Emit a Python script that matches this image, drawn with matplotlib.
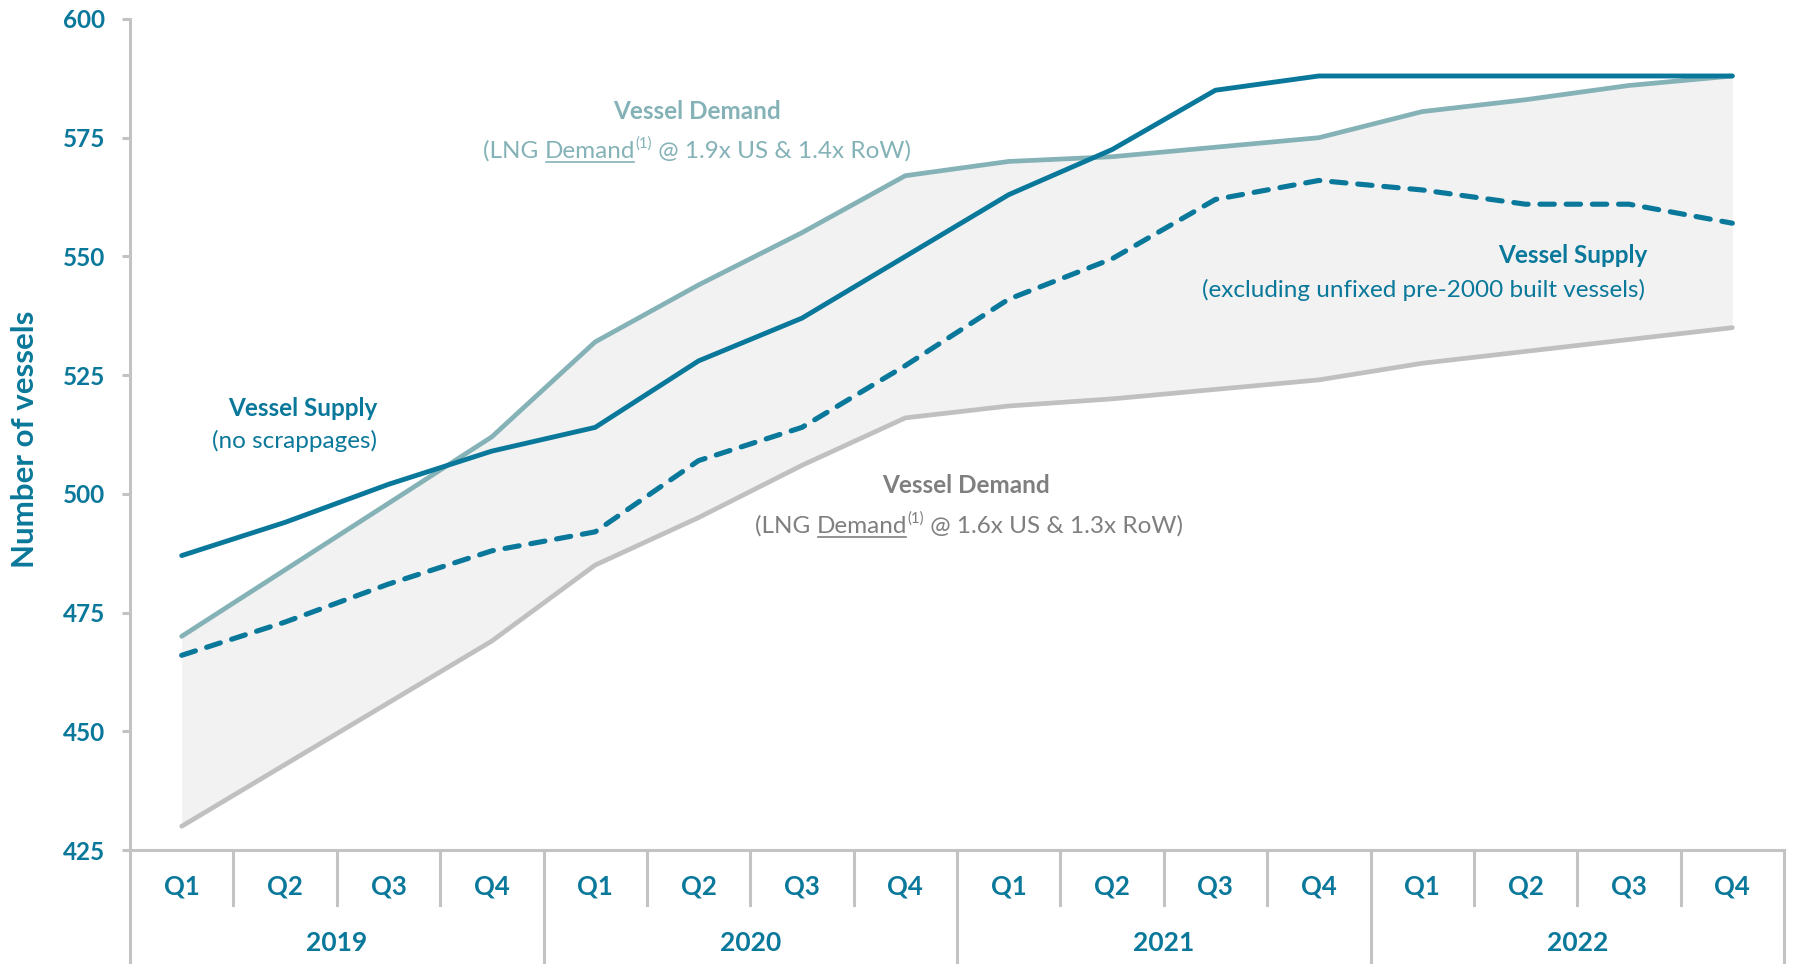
import matplotlib
matplotlib.use('Agg')
import matplotlib.pyplot as plt
from matplotlib.transforms import IdentityTransform, blended_transform_factory
from matplotlib.lines import Line2D

# ---------------- data ----------------
quarters = ['Q1', 'Q2', 'Q3', 'Q4'] * 4
years = ['2019', '2020', '2021', '2022']
supply_no_scrap = [487, 494, 502, 509, 514, 528, 537, 550, 563, 572.5, 585, 588, 588, 588, 588, 588]
demand_high = [470, 484, 498, 512, 532, 544, 555, 567, 570, 571, 573, 575, 580.5, 583, 586, 588]
demand_low = [430, 443, 456, 469, 485, 495, 506, 516, 518.5, 520, 522, 524, 527.5, 530, 532.5, 535]
supply_excl = [466, 473, 481, 488, 492, 507, 514, 527, 541, 549.5, 562, 566, 564, 561, 561, 557]
y_ticks = [425, 450, 475, 500, 525, 550, 575, 600]

# ---------------- style ----------------
FONT = ['Lato', 'DejaVu Sans']
DARK = '#0A789A'
LIGHT = '#84B2B7'
GREY = '#C0C0C0'
FILL = '#F2F2F2'
GTEXT = '#7F7F7F'
AXC = '#C3C3C3'
ANN = 17.5

W, H = 1793, 964
fig = plt.figure(figsize=(W / 100, H / 100), dpi=100)
L, R, T, B = 130, 1784, 19, 850
ax = fig.add_axes([L / W, 1 - B / H, (R - L) / W, (B - T) / H])

x = list(range(len(quarters)))
ax.fill_between(x, demand_low, demand_high, color=FILL, lw=0, zorder=1)
ax.plot(x, demand_low, color=GREY, lw=3.4, solid_capstyle='round', zorder=2)
ax.plot(x, demand_high, color=LIGHT, lw=3.4, solid_capstyle='round', zorder=3)
ax.plot(x, supply_excl, color=DARK, lw=3.7, dashes=(2.8, 2.3), dash_capstyle='round', zorder=4)
ax.plot(x, supply_no_scrap, color=DARK, lw=3.5, solid_capstyle='round', zorder=5)

ax.set_xlim(-0.5, len(quarters) - 0.5)
ax.set_ylim(425, 600)
ax.set_yticks(y_ticks)
ax.set_xticks([])
for s in ['top', 'right']:
    ax.spines[s].set_visible(False)
for s in ['left', 'bottom']:
    ax.spines[s].set_color(AXC)
    ax.spines[s].set_linewidth(2.2)
ax.tick_params(axis='y', length=6, width=2.2, color=AXC, labelcolor=DARK, labelsize=17.5, pad=12)
for lab in ax.get_yticklabels():
    lab.set_fontweight('bold')
    lab.set_family(FONT)

# category axis: separators and labels
tr = blended_transform_factory(ax.transData, ax.transAxes)
ah = B - T
q_bot = -(905 - B) / ah
y_bot = -(962 - B) / ah
for k in range(len(quarters) + 1):
    xb = k - 0.5
    is_year = (k % 4 == 0)
    ax.add_line(Line2D([xb, xb], [0, y_bot if is_year else q_bot], transform=tr,
                       color=AXC, lw=2.2, clip_on=False, zorder=6))
for i, q in enumerate(quarters):
    ax.text(i, -(887 - B) / ah, q, transform=tr, ha='center', va='center',
            color=DARK, fontsize=18.5, fontweight='bold', family=FONT)
for j, yr in enumerate(years):
    ax.text(4 * j + 1.5, -(943 - B) / ah, yr, transform=tr, ha='center', va='center',
            color=DARK, fontsize=19, fontweight='bold', family=FONT)

fig.text(25 / W, 1 - 439 / H, 'Number of vessels', rotation=90, ha='center', va='center',
         color=DARK, fontsize=22.5, fontweight='bold', family=FONT)

# ---------------- annotations ----------------
renderer = fig.canvas.get_renderer()
IDT = IdentityTransform()


def rich_line(segs, xpix, ypix, ha, color, size, weight='normal'):
    """segs: list of (text, kind) kind: 'n' normal, 'u' underline, 's' superscript.
    xpix, ypix in image pixel coordinates (y from top, baseline)."""
    items = []
    total = 0
    for t, k in segs:
        fs = size * 0.62 if k == 's' else size
        tt = fig.text(0, 0, t, fontsize=fs, fontweight=weight, family=FONT, transform=IDT)
        w = tt.get_window_extent(renderer).width
        tt.remove()
        items.append((t, k, fs, w))
        total += w
    if ha == 'center':
        x0 = xpix - total / 2
    elif ha == 'right':
        x0 = xpix - total
    else:
        x0 = xpix
    yb = H - ypix
    for t, k, fs, w in items:
        yy = yb + (size * 100 / 72) * 0.42 if k == 's' else yb
        fig.text(x0, yy, t, fontsize=fs, fontweight=weight, family=FONT, color=color,
                 transform=IDT, ha='left', va='baseline')
        if k == 'u':
            fig.add_artist(Line2D([x0 + 1, x0 + w - 1], [yb - 3.5, yb - 3.5], transform=IDT,
                                  color=color, lw=1.2))
        x0 += w


rich_line([('Vessel Demand', 'n')], 697, 119, 'center', LIGHT, ANN, 'bold')
rich_line([('(LNG ', 'n'), ('Demand', 'u'), ('(1)', 's'), (' @ 1.9x US & 1.4x RoW)', 'n')],
          697, 158, 'center', LIGHT, ANN)

rich_line([('Vessel Demand', 'n')], 966, 493, 'center', GTEXT, ANN, 'bold')
rich_line([('(LNG ', 'n'), ('Demand', 'u'), ('(1)', 's'), (' @ 1.6x US & 1.3x RoW)', 'n')],
          969, 533, 'center', GTEXT, ANN)

rich_line([('Vessel Supply', 'n')], 1647, 263, 'right', DARK, ANN, 'bold')
rich_line([('(excluding unfixed pre-2000 built vessels)', 'n')], 1645, 297, 'right', DARK, ANN)

rich_line([('Vessel Supply', 'n')], 377, 416, 'right', DARK, ANN, 'bold')
rich_line([('(no scrappages)', 'n')], 377, 448, 'right', DARK, ANN)

fig.savefig('out.png', dpi=100)
